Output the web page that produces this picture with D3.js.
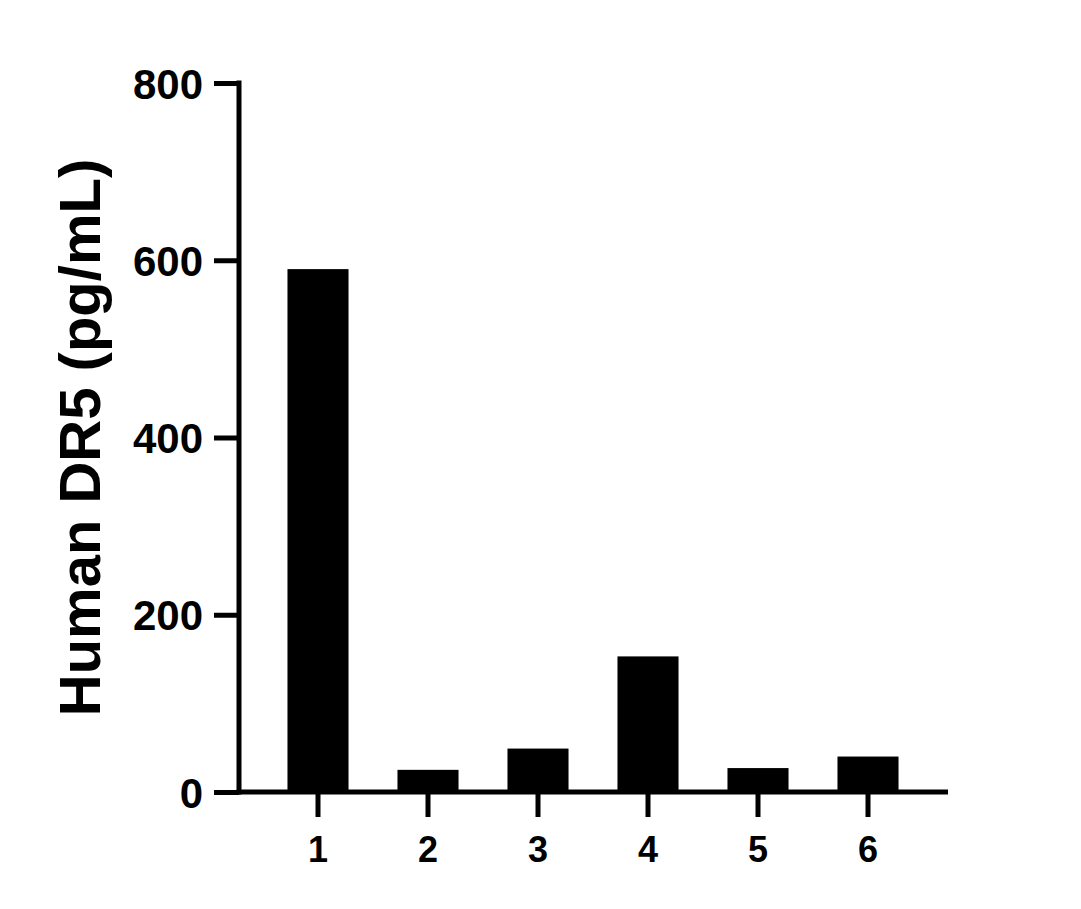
<!DOCTYPE html>
<html>
<head>
<meta charset="utf-8">
<script src="https://cdn.jsdelivr.net/npm/d3@7"></script>
<style>
  body { margin: 0; background: #fff; }
  text { font-family: Arial, "Liberation Sans", sans-serif; font-weight: bold; fill: #000; }
</style>
</head>
<body>
<svg id="canvas" width="1081" height="909"></svg>
<script>
// values
let samples = ["1", "2", "3", "4", "5", "6"]
let dr5Values = [590, 25, 49, 153, 27, 40]
let yTicks = [0, 200, 400, 600, 800]
let yLabel = "Human DR5 (pg/mL)"

let canvas = d3.select("#canvas")

let axisX = 239, axisBottomY = 792, axisTopY = 83, axisRightX = 948

let yScale = d3.scaleLinear().domain([0, 800]).range([axisBottomY, axisTopY])
let xScale = d3.scaleBand()
               .domain(samples)
               .range([263, 923])
               .paddingInner(0.445)
               .paddingOuter(0.2225)

// bars
canvas.selectAll("rect.bar")
      .data(samples)
      .enter()
      .append("rect")
      .attr("class", "bar")
      .attr("x", s => xScale(s))
      .attr("width", xScale.bandwidth())
      .attr("y", (s, i) => yScale(dr5Values[i]))
      .attr("height", (s, i) => axisBottomY - yScale(dr5Values[i]))
      .attr("fill", "#000")

// y axis
let yAxis = d3.axisLeft(yScale).tickValues(yTicks).tickSize(25).tickSizeOuter(0).tickPadding(11)
let gy = canvas.append("g").attr("transform", "translate(" + axisX + ",0)").call(yAxis)
gy.select(".domain").remove()
gy.selectAll(".tick line").attr("stroke", "#000").attr("stroke-width", 5)
gy.selectAll(".tick text").style("font-size", "42px").attr("dy", "0.36em")

// x axis
let xAxis = d3.axisBottom(xScale).tickSize(25).tickSizeOuter(0).tickPadding(19)
let gx = canvas.append("g").attr("transform", "translate(0," + axisBottomY + ")").call(xAxis)
gx.select(".domain").remove()
gx.selectAll(".tick line").attr("stroke", "#000").attr("stroke-width", 5)
gx.selectAll(".tick text").style("font-size", "36px")

// axis lines
canvas.append("line")
      .attr("x1", axisX).attr("x2", axisX)
      .attr("y1", axisTopY - 2.5).attr("y2", axisBottomY + 2.5)
      .attr("stroke", "#000").attr("stroke-width", 5)
canvas.append("line")
      .attr("x1", axisX - 2.5).attr("x2", axisRightX)
      .attr("y1", axisBottomY).attr("y2", axisBottomY)
      .attr("stroke", "#000").attr("stroke-width", 5)

// y title
canvas.append("text")
      .attr("transform", "translate(100," + ((axisTopY + axisBottomY) / 2) + ") rotate(-90)")
      .attr("text-anchor", "middle")
      .style("font-size", "58px")
      .text(yLabel)
</script>
</body>
</html>
